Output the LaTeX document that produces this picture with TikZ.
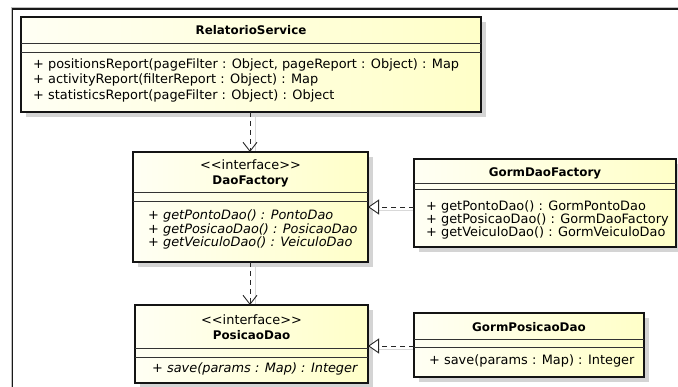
\documentclass[tikz,border=0pt]{standalone}
\usepackage{fontspec}
\setmainfont{DejaVu Sans}
\usetikzlibrary{arrows.meta,shadows}
\definecolor{creamL}{HTML}{FFFFF4}
\definecolor{creamR}{HTML}{FFFFC8}
\pgfdeclarelayer{bg}
\pgfsetlayers{bg,main}
\begin{document}
\begin{tikzpicture}[x=1pt,y=-1pt,
  umlbox/.style={draw=black!92, line width=1.7pt, left color=creamL, right color=creamR,
    inner sep=0pt, outer sep=0pt,
    drop shadow={shadow xshift=5pt, shadow yshift=-5pt, fill=black!17, opacity=1}},
  divider/.style={draw=black!80, line width=0.7pt},
  txt/.style={inner sep=0pt, anchor=west, font=\fontsize{12.9}{14}\selectfont},
  itl/.style={inner sep=0pt, anchor=west, font=\fontsize{12.9}{14}\selectfont\itshape},
  ttl/.style={inner sep=0pt, font=\fontsize{11.9}{14}\selectfont\bfseries},
  ster/.style={inner sep=0pt, font=\fontsize{12.9}{14}\selectfont},
  dep/.style={draw=black!85, line width=0.9pt, dash pattern=on 5pt off 4pt,
    -{Straight Barb[length=9pt,width=14pt,line width=0.9pt]}},
  real/.style={draw=black!85, line width=0.9pt, dash pattern=on 5pt off 4pt,
    -{Triangle[open,length=11pt,width=15pt,line width=0.9pt,fill=white]}},
  ashadow/.style={draw=black!15, line width=1pt},
]
\useasboundingbox (0,0) rectangle (678,387);
% outer frame
\draw[black!25, line width=0.8pt] (11,400) -- (11,7.5) -- (690,7.5);
\draw[black!90, line width=1.4pt] (12.5,400) -- (12.5,9) -- (690,9);

% boxes
\node[umlbox, minimum width=460pt, minimum height=95pt] (rs) at (251,64.5) {};
\node[umlbox, minimum width=235pt, minimum height=110pt] (df) at (250.5,207) {};
\node[umlbox, minimum width=262pt, minimum height=88pt] (gdf) at (545,203) {};
\node[umlbox, minimum width=233pt, minimum height=78pt] (pd) at (251.5,344) {};
\node[umlbox, minimum width=230pt, minimum height=64pt] (gpd) at (529,345) {};

% dividers
\draw[divider] (rs.west |- 0,43) -- (rs.east |- 0,43);
\draw[divider] (rs.west |- 0,52) -- (rs.east |- 0,52);
\draw[divider] (df.west |- 0,192) -- (df.east |- 0,192);
\draw[divider] (df.west |- 0,201) -- (df.east |- 0,201);
\draw[divider] (gdf.west |- 0,183) -- (gdf.east |- 0,183);
\draw[divider] (gdf.west |- 0,189) -- (gdf.east |- 0,189);
\draw[divider] (pd.west |- 0,348) -- (pd.east |- 0,348);
\draw[divider] (pd.west |- 0,357) -- (pd.east |- 0,357);
\draw[divider] (gpd.west |- 0,339) -- (gpd.east |- 0,339);
\draw[divider] (gpd.west |- 0,347) -- (gpd.east |- 0,347);

% texts
\node[ttl] (rsT) at (251,30) {RelatorioService};
\node[txt] (rsM1) at (33,65) {+ positionsReport(pageFilter : Object, pageReport : Object) : Map};
\node[txt] (rsM2) at (33,80) {+ activityReport(filterReport : Object) : Map};
\node[txt] (rsM3) at (33,95.5) {+ statisticsReport(pageFilter : Object) : Object};

\node[ster] (dfS) at (250.5,165) {<{}<interface>{}>};
\node[ttl] (dfT) at (250.5,181) {DaoFactory};
\node[itl] (dfM1) at (148,216) {+ getPontoDao() : PontoDao};
\node[itl] (dfM2) at (148,229.5) {+ getPosicaoDao() : PosicaoDao};
\node[itl] (dfM3) at (148,243) {+ getVeiculoDao() : VeiculoDao};

\node[ttl] (gdfT) at (545,173) {GormDaoFactory};
\node[txt] (gdfM1) at (426,207) {+ getPontoDao() : GormPontoDao};
\node[txt] (gdfM2) at (426,220) {+ getPosicaoDao() : GormDaoFactory};
\node[txt] (gdfM3) at (426,233) {+ getVeiculoDao() : GormVeiculoDao};

\node[ster] (pdS) at (251.5,320) {<{}<interface>{}>};
\node[ttl] (pdT) at (251.5,335) {PosicaoDao};
\node[itl] (pdM1) at (152,369) {+ save(params : Map) : Integer};

\node[ttl] (gpdT) at (529,327) {GormPosicaoDao};
\node[txt] (gpdM1) at (429,361) {+ save(params : Map) : Integer};

% connector shadows
\begin{pgfonlayer}{bg}
\begin{scope}[transform canvas={shift={(5pt,-4pt)}}]
\draw[ashadow] (rs.south -| 250,0) -- (df.north -| 250,0);
\draw[ashadow] (df.south -| 250,0) -- (pd.north -| 250,0);
\draw[ashadow] (gdf.west |- 0,207) -- (df.east |- 0,207);
\draw[ashadow] (gpd.west |- 0,346) -- (pd.east |- 0,346);
\end{scope}
\end{pgfonlayer}

% connectors
\draw[dep] (rs.south -| 250,0) -- (df.north -| 250,0);
\draw[dep] (df.south -| 250,0) -- (pd.north -| 250,0);
\draw[real] (gdf.west |- 0,207) -- (df.east |- 0,207);
\draw[real] (gpd.west |- 0,346) -- (pd.east |- 0,346);
\end{tikzpicture}
\end{document}
